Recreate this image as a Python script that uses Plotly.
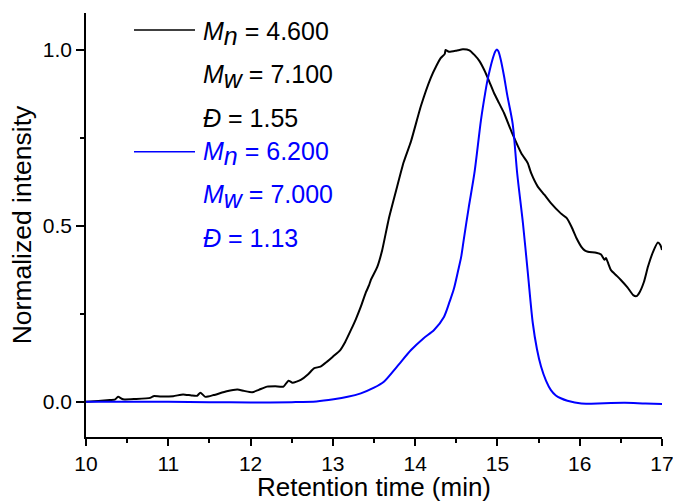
import plotly.graph_objects as go

# Black trace (sample 1)
t_black = [10.00, 10.15, 10.29, 10.35, 10.39, 10.45, 10.60, 10.78, 10.82, 10.90, 11.06, 11.18, 11.28,
           11.35, 11.39, 11.45, 11.55, 11.71, 11.84, 11.92, 12.02, 12.10, 12.20, 12.30, 12.40, 12.46,
           12.51, 12.61, 12.70, 12.77, 12.85, 12.93, 13.00, 13.09, 13.15, 13.22, 13.28, 13.34, 13.40,
           13.44, 13.46, 13.54, 13.60, 13.68, 13.78, 13.86, 13.95, 14.07, 14.19, 14.26, 14.31, 14.36,
           14.37, 14.41, 14.50, 14.58, 14.66, 14.72, 14.78, 14.84, 14.90, 14.96, 15.02, 15.08, 15.18,
           15.29, 15.35, 15.37, 15.41, 15.49, 15.57, 15.65, 15.77, 15.84, 15.90, 15.96, 16.02, 16.06,
           16.10, 16.20, 16.26, 16.30, 16.32, 16.34, 16.38, 16.44, 16.50, 16.58, 16.65, 16.69, 16.73,
           16.78, 16.83, 16.89, 16.95, 16.98, 17.00]
v_black = [0.000, 0.002, 0.005, 0.006, 0.014, 0.007, 0.008, 0.011, 0.016, 0.015, 0.016, 0.021, 0.018,
           0.017, 0.026, 0.014, 0.019, 0.030, 0.035, 0.031, 0.027, 0.034, 0.043, 0.044, 0.043, 0.060,
           0.054, 0.062, 0.078, 0.095, 0.100, 0.114, 0.128, 0.147, 0.170, 0.204, 0.235, 0.270, 0.310,
           0.331, 0.345, 0.383, 0.431, 0.520, 0.610, 0.680, 0.740, 0.840, 0.920, 0.955, 0.976, 0.988,
           0.999, 0.994, 0.997, 1.001, 0.998, 0.985, 0.968, 0.942, 0.910, 0.876, 0.848, 0.820, 0.762,
           0.706, 0.685, 0.677, 0.649, 0.611, 0.588, 0.564, 0.535, 0.522, 0.497, 0.465, 0.440, 0.430,
           0.426, 0.423, 0.418, 0.403, 0.408, 0.397, 0.374, 0.360, 0.346, 0.325, 0.303, 0.300, 0.312,
           0.340, 0.384, 0.425, 0.452, 0.445, 0.431]

# Blue trace (sample 2)
t_blue = [10.00, 10.50, 11.00, 11.50, 12.00, 12.50, 12.80, 13.01, 13.18, 13.34, 13.50, 13.62, 13.78,
          13.95, 14.10, 14.23, 14.35, 14.42, 14.47, 14.52, 14.56, 14.59, 14.65, 14.72, 14.80, 14.85,
          14.88, 14.91, 14.94, 14.97, 14.99, 15.01, 15.04, 15.08, 15.12, 15.185, 15.24, 15.31, 15.37,
          15.43, 15.48, 15.53, 15.59, 15.65, 15.71, 15.77, 15.85, 16.02, 16.30, 16.55, 16.80, 17.00]
v_blue = [0.000, 0.000, 0.000, -0.001, -0.002, -0.001, 0.001, 0.007, 0.014, 0.024, 0.040, 0.057, 0.100,
          0.147, 0.180, 0.204, 0.241, 0.285, 0.320, 0.370, 0.412, 0.459, 0.550, 0.649, 0.800, 0.875,
          0.914, 0.945, 0.972, 0.993, 1.000, 0.996, 0.972, 0.925, 0.870, 0.790, 0.649, 0.507, 0.365,
          0.223, 0.150, 0.100, 0.060, 0.033, 0.018, 0.010, 0.003, -0.005, -0.004, -0.003, -0.005, -0.006]

x_ticks = [10, 11, 12, 13, 14, 15, 16, 17]
y_ticks = [0.0, 0.5, 1.0]

SUB = '<sub><span style="font-size:25px"><i>%s</i></span></sub>'
legend_black = ["<i>M</i>" + SUB % "n" + " = 4.600",
                "<i>M</i>" + SUB % "w" + " = 7.100",
                "<i>Đ</i> = 1.55"]
legend_blue = ["<i>M</i>" + SUB % "n" + " = 6.200",
               "<i>M</i>" + SUB % "w" + " = 7.000",
               "<i>Đ</i> = 1.13"]

BLACK = "#000000"
BLUE = "#0000FF"
FONT = "Arial, Liberation Sans, sans-serif"

W, H = 673, 502
ML, MR, MT, MB = 86, 11, 13, 65
PW, PH = W - ML - MR, H - MT - MB


def px_x(px):
    return (px - ML) / PW


def px_y(py):
    return (H - MB - py) / PH


fig = go.Figure()
fig.add_trace(go.Scatter(x=t_black, y=v_black, mode="lines",
                         line=dict(color=BLACK, width=2, shape="spline", smoothing=0.5), showlegend=False))
fig.add_trace(go.Scatter(x=t_blue, y=v_blue, mode="lines",
                         line=dict(color=BLUE, width=2, shape="spline", smoothing=0.8), showlegend=False))

# legend-like block
line_y = [30, 151.7]
for ly, col in zip(line_y, [BLACK, BLUE]):
    fig.add_shape(type="line", xref="paper", yref="paper",
                  x0=px_x(134), x1=px_x(195), y0=px_y(ly), y1=px_y(ly),
                  line=dict(color=col, width=1.5))

text_y = [32.5, 75.8, 118, 152.5, 195.8, 238]
texts = legend_black + legend_blue
colors = [BLACK] * 3 + [BLUE] * 3
for ty, txt, col in zip(text_y, texts, colors):
    has_sub = "<sub" in txt
    fig.add_annotation(xref="paper", yref="paper", x=px_x(201), y=px_y(ty + (0.5 if has_sub else 0)),
                       xanchor="left", yanchor="middle", text=txt, showarrow=False,
                       font=dict(family=FONT, size=25, color=col))

axis_common = dict(showline=True, linecolor=BLACK, linewidth=1.5, ticks="outside",
                   tickcolor=BLACK, tickwidth=1.5, showgrid=False, zeroline=False, mirror=False,
                   automargin=False)

fig.update_xaxes(range=[10, 17], tickmode="array", tickvals=x_ticks,
                 ticktext=[str(v) for v in x_ticks], ticklen=7, ticklabeloverflow="allow",
                 tickfont=dict(family=FONT, size=21, color=BLACK),
                 minor=dict(ticks="outside", ticklen=4, dtick=0.5, tickcolor=BLACK, tickwidth=1.5, showgrid=False),
                 title=dict(text="Retention time (min)", font=dict(family=FONT, size=26, color=BLACK), standoff=11),
                 **axis_common)
fig.update_yaxes(range=[-0.1, 1.104], tickmode="array", tickvals=y_ticks,
                 ticktext=["%.1f" % v for v in y_ticks], ticklen=8,
                 tickfont=dict(family=FONT, size=21, color=BLACK),
                 minor=dict(ticks="outside", ticklen=4, dtick=0.25, tickcolor=BLACK, tickwidth=1.5, showgrid=False),
                 title=dict(text="Normalized intensity", font=dict(family=FONT, size=26.5, color=BLACK), standoff=4),
                 **axis_common)

fig.update_layout(template="none", width=W, height=H, margin=dict(l=ML, r=MR, t=MT, b=MB),
                  plot_bgcolor="white", paper_bgcolor="white", showlegend=False,
                  font=dict(family=FONT, size=21, color=BLACK))

fig.write_html("out.html")
